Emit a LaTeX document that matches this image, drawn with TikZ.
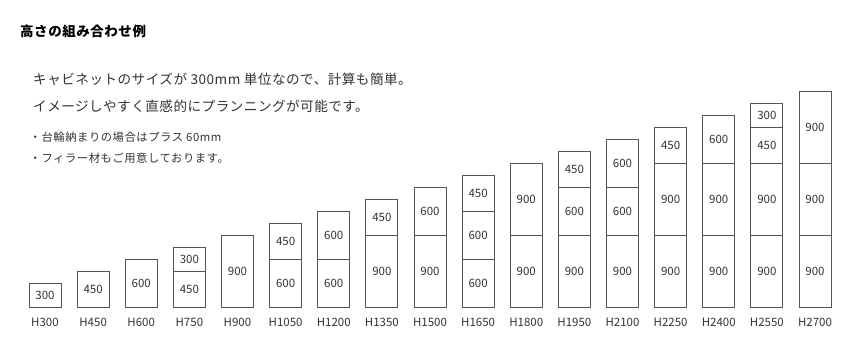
\documentclass[tikz,border=0pt]{standalone}
\usepackage{fontspec}
\setmainfont{Noto Sans CJK JP}
\newfontfamily\jpTitle[LetterSpace=4]{Noto Sans CJK JP}
\newfontfamily\jpLead[LetterSpace=3.5]{Noto Sans CJK JP}
\newfontfamily\jpNote[LetterSpace=5]{Noto Sans CJK JP}
\usepackage{xcolor}
\usepackage{tikz}
\usetikzlibrary{positioning}
\definecolor{Ink}{HTML}{333333}
\definecolor{FrameGrey}{HTML}{555555}

% one column of stacked cabinets: #1 column, #2 total height, #3 units from the floor up
\newcommand\hhColumn[3]{%
  \foreach \h [count=\k] in {#3} {
    \ifnum\k=1
      \node[hhCab,minimum height=0.08*\h,anchor=south] (cab#1-\k) at ({45+48.125*(#1-1)},307.5) {\h};
    \else
      \pgfmathtruncatemacro\prevk{\k-1}
      \node[hhCab,minimum height=0.08*\h,anchor=south] (cab#1-\k) at (cab#1-\prevk.north) {\h};
    \fi
  }
  \node[hhLabel] (lab#1) at ({45+48.125*(#1-1)},322) {H#2};
}

\begin{document}
\begin{tikzpicture}[x=1pt,y=-1pt]
  \path[use as bounding box] (0,0) rectangle (860,360);
  \tikzset{
    hhCab/.style={
      draw=FrameGrey, fill=white, line width=1pt, outer sep=0pt,
      minimum width=32pt, inner sep=0pt,
      font=\fontsize{11.5}{12}\selectfont, text=Ink
    },
    hhLabel/.style={inner sep=0pt, font=\fontsize{11.5}{12}\selectfont, text=Ink},
    hhText/.style={anchor=west, inner sep=0pt, text=Ink}
  }

  \node[hhText,font=\jpTitle\fontsize{13.5}{14}\selectfont\bfseries,text=black] (title) at (20,31) {高さの組み合わせ例};
  \node[hhText,font=\jpLead\fontsize{13.6}{14}\selectfont] (lead1) at (33,79) {キャビネットのサイズが 300mm 単位なので、計算も簡単。};
  \node[hhText,font=\jpLead\fontsize{13.6}{14}\selectfont] (lead2) at (33,106) {イメージしやすく直感的にプランニングが可能です。};
  \node[hhText,font=\jpNote\fontsize{11.3}{12}\selectfont] (note1) at (29.5,137) {・台輪納まりの場合はプラス 60mm};
  \node[hhText,font=\jpNote\fontsize{11.3}{12}\selectfont] (note2) at (29.5,158) {・フィラー材もご用意しております。};

  \hhColumn{1}{300}{300}
  \hhColumn{2}{450}{450}
  \hhColumn{3}{600}{600}
  \hhColumn{4}{750}{450,300}
  \hhColumn{5}{900}{900}
  \hhColumn{6}{1050}{600,450}
  \hhColumn{7}{1200}{600,600}
  \hhColumn{8}{1350}{900,450}
  \hhColumn{9}{1500}{900,600}
  \hhColumn{10}{1650}{600,600,450}
  \hhColumn{11}{1800}{900,900}
  \hhColumn{12}{1950}{900,600,450}
  \hhColumn{13}{2100}{900,600,600}
  \hhColumn{14}{2250}{900,900,450}
  \hhColumn{15}{2400}{900,900,600}
  \hhColumn{16}{2550}{900,900,450,300}
  \hhColumn{17}{2700}{900,900,900}
\end{tikzpicture}
\end{document}
